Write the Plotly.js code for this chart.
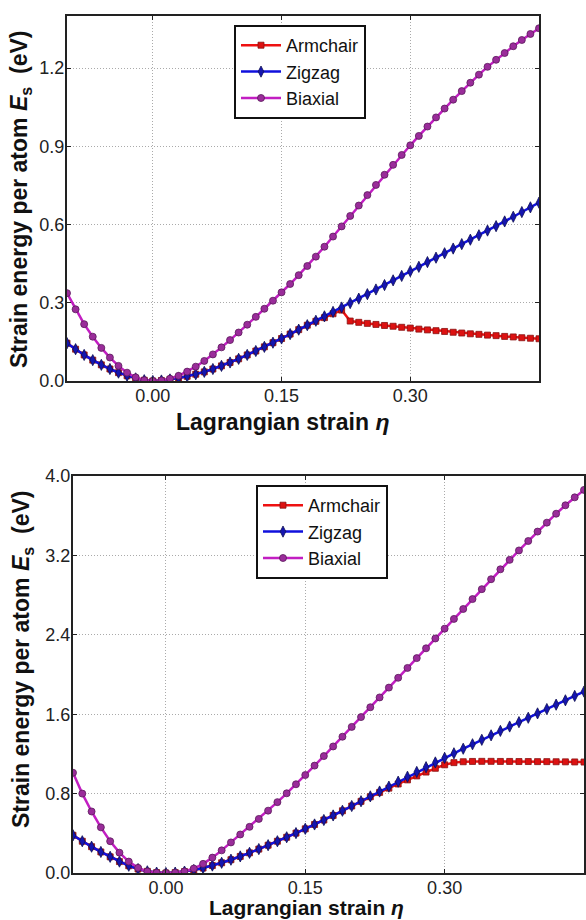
<!DOCTYPE html>
<html>
<head>
<meta charset="utf-8">
<script src="https://cdn.plot.ly/plotly-3.0.1.min.js"></script>
<style>html,body{margin:0;padding:0;background:#fff;}#chart{width:586px;height:920px;}</style>
</head>
<body>
<div id="chart"></div>
<script>
// Lagrangian strain values (shared by both panels)
const eta = [-0.10,-0.09,-0.08,-0.07,-0.06,-0.05,-0.04,-0.03,-0.02,-0.01,
  0.00,0.01,0.02,0.03,0.04,0.05,0.06,0.07,0.08,0.09,
  0.10,0.11,0.12,0.13,0.14,0.15,0.16,0.17,0.18,0.19,
  0.20,0.21,0.22,0.23,0.24,0.25,0.26,0.27,0.28,0.29,
  0.30,0.31,0.32,0.33,0.34,0.35,0.36,0.37,0.38,0.39,
  0.40,0.41,0.42,0.43,0.44,0.45];

// Top panel (eV)
const topArmchair = [0.145,0.122,0.100,0.080,0.062,0.046,0.032,0.020,0.010,0.003,
  0.000,0.002,0.006,0.011,0.018,0.026,0.035,0.046,0.058,0.071,
  0.085,0.100,0.115,0.131,0.147,0.163,0.180,0.197,0.214,0.229,
  0.243,0.258,0.272,0.230,0.225,0.221,0.217,0.213,0.210,0.206,
  0.203,0.199,0.196,0.193,0.190,0.187,0.184,0.181,0.179,0.176,
  0.174,0.171,0.169,0.166,0.164,0.162];
const topZigzag = [0.145,0.122,0.100,0.080,0.062,0.046,0.032,0.020,0.010,0.003,
  0.000,0.002,0.006,0.011,0.018,0.026,0.035,0.046,0.058,0.071,
  0.085,0.100,0.115,0.131,0.147,0.163,0.180,0.197,0.214,0.231,
  0.248,0.265,0.282,0.299,0.316,0.333,0.351,0.368,0.386,0.403,
  0.421,0.438,0.456,0.473,0.490,0.508,0.525,0.542,0.559,0.577,
  0.594,0.612,0.630,0.648,0.666,0.684];
const topBiaxial = [0.337,0.275,0.218,0.170,0.127,0.090,0.058,0.032,0.014,0.003,
  0.000,0.002,0.009,0.020,0.036,0.055,0.077,0.102,0.129,0.157,
  0.186,0.216,0.246,0.277,0.308,0.340,0.372,0.406,0.441,0.477,
  0.515,0.554,0.593,0.633,0.673,0.713,0.752,0.791,0.829,0.867,
  0.904,0.940,0.976,1.011,1.045,1.079,1.112,1.144,1.175,1.205,
  1.232,1.258,1.284,1.308,1.331,1.353];

// Bottom panel (eV)
const botArmchair = [0.380,0.320,0.265,0.212,0.163,0.115,0.073,0.040,0.017,0.004,
  0.000,0.004,0.014,0.030,0.050,0.075,0.103,0.134,0.167,0.203,
  0.241,0.280,0.320,0.360,0.402,0.445,0.489,0.534,0.580,0.627,
  0.675,0.722,0.768,0.812,0.855,0.897,0.938,0.978,1.017,1.055,
  1.090,1.112,1.121,1.124,1.125,1.125,1.124,1.124,1.123,1.123,
  1.122,1.122,1.121,1.120,1.119,1.118];
const botZigzag = [0.380,0.320,0.265,0.212,0.163,0.115,0.073,0.040,0.017,0.004,
  0.000,0.004,0.014,0.030,0.050,0.075,0.103,0.134,0.167,0.203,
  0.241,0.280,0.320,0.360,0.402,0.445,0.489,0.534,0.580,0.627,
  0.675,0.723,0.772,0.821,0.870,0.920,0.970,1.018,1.066,1.114,
  1.160,1.206,1.252,1.297,1.342,1.387,1.432,1.476,1.520,1.564,
  1.608,1.652,1.696,1.740,1.784,1.828];
const botBiaxial = [1.010,0.800,0.620,0.460,0.320,0.205,0.115,0.052,0.016,0.003,
  0.000,0.003,0.016,0.045,0.092,0.155,0.228,0.308,0.388,0.465,
  0.545,0.628,0.714,0.803,0.894,0.987,1.082,1.178,1.275,1.373,
  1.472,1.571,1.670,1.769,1.868,1.967,2.066,2.165,2.264,2.363,
  2.462,2.560,2.660,2.760,2.860,2.960,3.060,3.155,3.250,3.345,
  3.440,3.530,3.620,3.705,3.785,3.860];

const seriesNames = ['Armchair','Zigzag','Biaxial'];
const xTicks = [0.00, 0.15, 0.30];
const xTickText = ['0.00','0.15','0.30'];
const topYTicks = [0.0, 0.3, 0.6, 0.9, 1.2];
const topYTickText = ['0.0','0.3','0.6','0.9','1.2'];
const botYTicks = [0.0, 0.8, 1.6, 2.4, 3.2, 4.0];
const botYTickText = ['0.0','0.8','1.6','2.4','3.2','4.0'];

const FONT = 'Liberation Sans, Arial, Helvetica, sans-serif';
const styles = [
  {line:'#ee1111', mfill:'#dd1111', mline:'#881111', symbol:'square', size:6},
  {line:'#1010dd', mfill:'#1515b0', mline:'#101050', symbol:'diamond-tall', size:8},
  {line:'#c21ec2', mfill:'#9a2c9a', mline:'#5a1a5a', symbol:'circle', size:7}
];

function mk(y, i, xa, ya, leg) {
  const s = styles[i];
  return {
    x: eta, y: y, name: seriesNames[i], type: 'scatter', mode: 'lines+markers',
    xaxis: xa, yaxis: ya, legend: leg, cliponaxis: true,
    line: {color: s.line, width: 2.5},
    marker: {symbol: s.symbol, size: s.size, color: s.mfill, line: {color: s.mline, width: 0.8}}
  };
}

const data = [
  mk(topArmchair, 0, 'x', 'y', 'legend'),
  mk(topZigzag, 1, 'x', 'y', 'legend'),
  mk(topBiaxial, 2, 'x', 'y', 'legend'),
  mk(botArmchair, 0, 'x2', 'y2', 'legend2'),
  mk(botZigzag, 1, 'x2', 'y2', 'legend2'),
  mk(botBiaxial, 2, 'x2', 'y2', 'legend2')
];

const W = 586, H = 920;
const TICKFONT = {family: FONT, size: 18, color: '#222'};
function axisCommon() {
  return {showgrid: true, gridcolor: '#aaa', griddash: '1px,2px', gridwidth: 1, zeroline: false,
    showline: true, linecolor: '#222', linewidth: 2, mirror: 'ticks', ticks: 'inside', ticklen: 4,
    tickcolor: '#222', tickfont: TICKFONT, automargin: false, fixedrange: true, ticklabelstandoff: -3};
}
function axisX(dom, anchor) {
  return Object.assign(axisCommon(), {domain: dom, anchor: anchor, range: [-0.10, 0.45],
    tickvals: xTicks, ticktext: xTickText});
}
function axisY(dom, anchor, range, tv, tt) {
  return Object.assign(axisCommon(), {domain: dom, anchor: anchor, range: range,
    tickvals: tv, ticktext: tt});
}
const legendBase = {xref: 'paper', yref: 'paper', xanchor: 'left', yanchor: 'top',
  bgcolor: '#fff', bordercolor: '#111', borderwidth: 2,
  font: {family: FONT, size: 18, color: '#111'}, tracegroupgap: 0, itemwidth: 40};

const ytitle = '<b>Strain energy per atom <i>E</i><sub>s</sub>  (eV)</b>';
const xtitle = '<b>Lagrangian strain <i>η</i></b>';
const TITLEFONT = {family: FONT, size: 23, color: '#111'};

const layout = {
  width: W, height: H, margin: {l: 0, r: 0, t: 0, b: 0},
  paper_bgcolor: '#fff', plot_bgcolor: '#fff', showlegend: true,
  font: {family: FONT, color: '#111'},
  xaxis: axisX([67/W, 539/W], 'y'),
  yaxis: axisY([1-381/H, 1-16/H], 'x', [0, 1.4], topYTicks, topYTickText),
  xaxis2: axisX([73/W, 584/W], 'y2'),
  yaxis2: axisY([1-873/H, 1-476/H], 'x2', [0, 4.0], botYTicks, botYTickText),
  legend: Object.assign({}, legendBase, {x: 234/W, y: 1-25/H}),
  legend2: Object.assign({}, legendBase, {x: 256/W, y: 1-485/H}),
  annotations: [
    {text: ytitle, xref: 'paper', yref: 'paper', x: 21/W, y: 1-200/H, textangle: -90,
      showarrow: false, xanchor: 'center', yanchor: 'middle', font: TITLEFONT},
    {text: ytitle, xref: 'paper', yref: 'paper', x: 22/W, y: 1-660/H, textangle: -90,
      showarrow: false, xanchor: 'center', yanchor: 'middle', font: TITLEFONT},
    {text: xtitle, xref: 'paper', yref: 'paper', x: 282/W, y: 1-422/H,
      showarrow: false, xanchor: 'center', yanchor: 'middle', font: TITLEFONT},
    {text: xtitle, xref: 'paper', yref: 'paper', x: 306/W, y: 1-907/H,
      showarrow: false, xanchor: 'center', yanchor: 'middle', font: {family: FONT, size: 21, color: '#111'}}
  ]
};

Plotly.newPlot('chart', data, layout, {displayModeBar: false, staticPlot: true});
</script>
</body>
</html>
